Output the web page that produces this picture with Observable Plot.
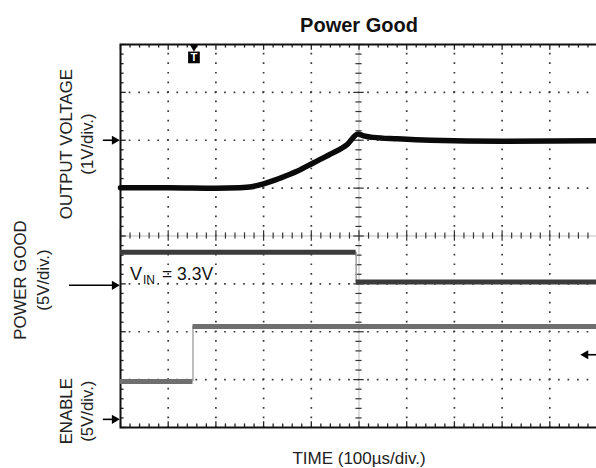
<!DOCTYPE html>
<html>
<head>
<meta charset="utf-8">
<script src="https://cdn.jsdelivr.net/npm/d3@7"></script>
<script src="https://cdn.jsdelivr.net/npm/@observablehq/plot@0.6"></script>
<style>
  html, body { margin: 0; padding: 0; background: #fff; }
  #chart svg { display: block; overflow: hidden; }
</style>
</head>
<body>
<div id="chart"></div>
<script>
// ---- Data (in scope divisions: time 0..10, amplitude 0..8) ----
const outTime = [0, 1, 2, 2.5, 2.75, 3.0, 3.35, 3.7, 4.05, 4.4, 4.75, 4.98, 5.1, 5.3, 5.8, 6.5, 8, 10];
const outVal  = [5.01, 5.01, 5.0, 5.01, 5.03, 5.09, 5.21, 5.35, 5.53, 5.71, 5.91, 6.13, 6.09, 6.06, 6.03, 6.0, 5.98, 5.99];

const pgEdges  = [0, 4.94, 10];
const pgValues = [3.66, 3.04];

const enEdges  = [0, 1.52, 10];
const enValues = [0.96, 2.11];

const groundLevels = [6.0, 2.97, 0.17];       // channel reference markers (left)
const groundStarts = [-0.36, -1.07, -0.36];
const triggerTime = 1.54;
const triggerLevel = 1.52;

const majorX = [1, 2, 3, 4, 6, 7, 8, 9];
const majorY = [1, 2, 3, 5, 6, 7];
const minorX = d3.range(0, 10.001, 0.2);
const minorY = d3.range(0, 8.001, 0.2);

const titleText = "Power Good";
const xLabel = "TIME (100µs/div.)";

// ---- Derived tables ----
const outData = outTime.map((t, i) => ({t, v: outVal[i]}));
const pgSeg = pgValues.map((v, i) => ({x1: pgEdges[i], x2: pgEdges[i + 1], y: v}));
const enSeg = enValues.map((v, i) => ({x1: enEdges[i], x2: enEdges[i + 1], y: v}));
const grounds = groundLevels.map((y, i) => ({y, x1: groundStarts[i]}));

const isMajor = d => Math.abs(d - Math.round(d)) < 1e-6;
const font = "'Liberation Sans', Arial, Helvetica, sans-serif";
const dotColor = "#3a3a3a";

const chart = Plot.plot({
  width: 596,
  height: 468,
  marginLeft: 120,
  marginRight: -1,
  marginTop: 44,
  marginBottom: 41,
  x: {domain: [0, 10], axis: null},
  y: {domain: [0, 8], axis: null},
  style: {fontFamily: font, background: "#fff", overflow: "hidden"},
  marks: [
    // dotted graticule
    Plot.ruleX(majorX, {x: d => d, y1: 0, y2: 8, stroke: dotColor, strokeWidth: 1.7,
      strokeDasharray: "1.7 7.875", strokeDashoffset: 0.85}),
    Plot.ruleY(majorY, {y: d => d, x1: 0, x2: 10, stroke: dotColor, strokeWidth: 1.7,
      strokeDasharray: "1.7 7.84", strokeDashoffset: 0.85}),
    // center crosshair
    Plot.ruleY([4], {stroke: "#bbb", strokeWidth: 1}),
    Plot.ruleX([5], {stroke: "#bbb", strokeWidth: 1}),
    Plot.ruleX(minorX, {x: d => d, y1: d => 4 - (isMajor(d) ? 0.11 : 0.065),
      y2: d => 4 + (isMajor(d) ? 0.11 : 0.065), stroke: "#333", strokeWidth: 1.2}),
    Plot.ruleY(minorY, {y: d => d, x1: d => 5 - (isMajor(d) ? 0.11 : 0.065),
      x2: d => 5 + (isMajor(d) ? 0.11 : 0.065), stroke: "#333", strokeWidth: 1.2}),
    // border ticks
    Plot.ruleX(minorX, {x: d => d, y1: 8, y2: d => 8 - (isMajor(d) ? 0.12 : 0.075), stroke: "#222", strokeWidth: 1.3}),
    Plot.ruleX(minorX, {x: d => d, y1: 0, y2: d => (isMajor(d) ? 0.12 : 0.075), stroke: "#222", strokeWidth: 1.3}),
    Plot.ruleY(minorY, {y: d => d, x1: 0, x2: d => (isMajor(d) ? 0.12 : 0.075), stroke: "#222", strokeWidth: 1.3}),
    // frame
    Plot.frame({stroke: "#111", strokeWidth: 2}),

    // ENABLE trace
    Plot.ruleX([enEdges[1]], {y1: enValues[0], y2: enValues[1], stroke: "#a8a8a8", strokeWidth: 1.5}),
    Plot.ruleY(enSeg, {x1: "x1", x2: "x2", y: "y", stroke: "#6f6f6f", strokeWidth: 5}),
    // POWER GOOD trace
    Plot.ruleX([pgEdges[1]], {y1: pgValues[1], y2: pgValues[0], stroke: "#a0a0a0", strokeWidth: 1.5}),
    Plot.ruleY(pgSeg, {x1: "x1", x2: "x2", y: "y", stroke: "#3b3b3b", strokeWidth: 5}),
    // OUTPUT VOLTAGE trace
    Plot.line(outData, {x: "t", y: "v", stroke: "#0a0a0a", strokeWidth: 5.5, curve: "monotone-x"}),

    // channel ground markers (left arrows)
    Plot.ruleY(grounds, {y: "y", x1: "x1", x2: -0.1, stroke: "#000", strokeWidth: 1.6}),
    Plot.dot(grounds, {x: -0.125, y: "y", symbol: "triangle", rotate: 90, r: 3.4, fill: "#000", stroke: "none"}),
    // trigger level marker (right)
    Plot.ruleY([triggerLevel], {x1: 9.8, x2: 10.1, stroke: "#000", strokeWidth: 1.6}),
    Plot.dot([triggerLevel], {x: 9.75, y: d => d, symbol: "triangle", rotate: -90, r: 3.4, fill: "#000", stroke: "none"}),
    // trigger time marker (top)
    Plot.dot([triggerTime], {x: d => d, y: 7.955, symbol: "triangle", rotate: 180, r: 3.2, fill: "#000", stroke: "none"}),
    Plot.dot([triggerTime], {x: d => d, y: 7.73, symbol: "square", r: 6.6, fill: "#000", stroke: "none"}),
    Plot.text(["T"], {x: triggerTime, y: 7.73, fill: "#fff", fontSize: 11, fontWeight: "bold"}),

    // V_IN annotation
    Plot.text(["V"], {x: 0.2, y: 3.09, textAnchor: "start", lineAnchor: "bottom", fontSize: 18, fill: "#111"}),
    Plot.text(["IN"], {x: 0.47, y: 3.0, textAnchor: "start", lineAnchor: "bottom", fontSize: 12, fill: "#111"}),
    Plot.text(["= 3.3V"], {x: 0.87, y: 3.09, textAnchor: "start", lineAnchor: "bottom", fontSize: 17.5, fill: "#111"}),

    // left channel labels
    Plot.text(["OUTPUT VOLTAGE"], {x: -1.14, y: 5.92, rotate: -90, fontSize: 16.8, fill: "#222"}),
    Plot.text(["(1V/div.)"], {x: -0.68, y: 5.92, rotate: -90, fontSize: 16.8, fill: "#222"}),
    Plot.text(["POWER GOOD"], {x: -2.10, y: 3.08, rotate: -90, fontSize: 16.8, fill: "#222"}),
    Plot.text(["(5V/div.)"], {x: -1.62, y: 3.08, rotate: -90, fontSize: 16.8, fill: "#222"}),
    Plot.text(["ENABLE"], {x: -1.14, y: 0.34, rotate: -90, fontSize: 16.8, fill: "#222"}),
    Plot.text(["(5V/div.)"], {x: -0.68, y: 0.34, rotate: -90, fontSize: 16.8, fill: "#222"}),

    // title and x label
    Plot.text([titleText], {x: 5, y: 8.27, lineAnchor: "bottom", fontSize: 20, fontWeight: "bold", fill: "#111"}),
    Plot.text([xLabel], {x: 5, y: -0.752, lineAnchor: "bottom", fontSize: 17, fill: "#222"})
  ]
});
document.getElementById("chart").appendChild(chart);
</script>
</body>
</html>
